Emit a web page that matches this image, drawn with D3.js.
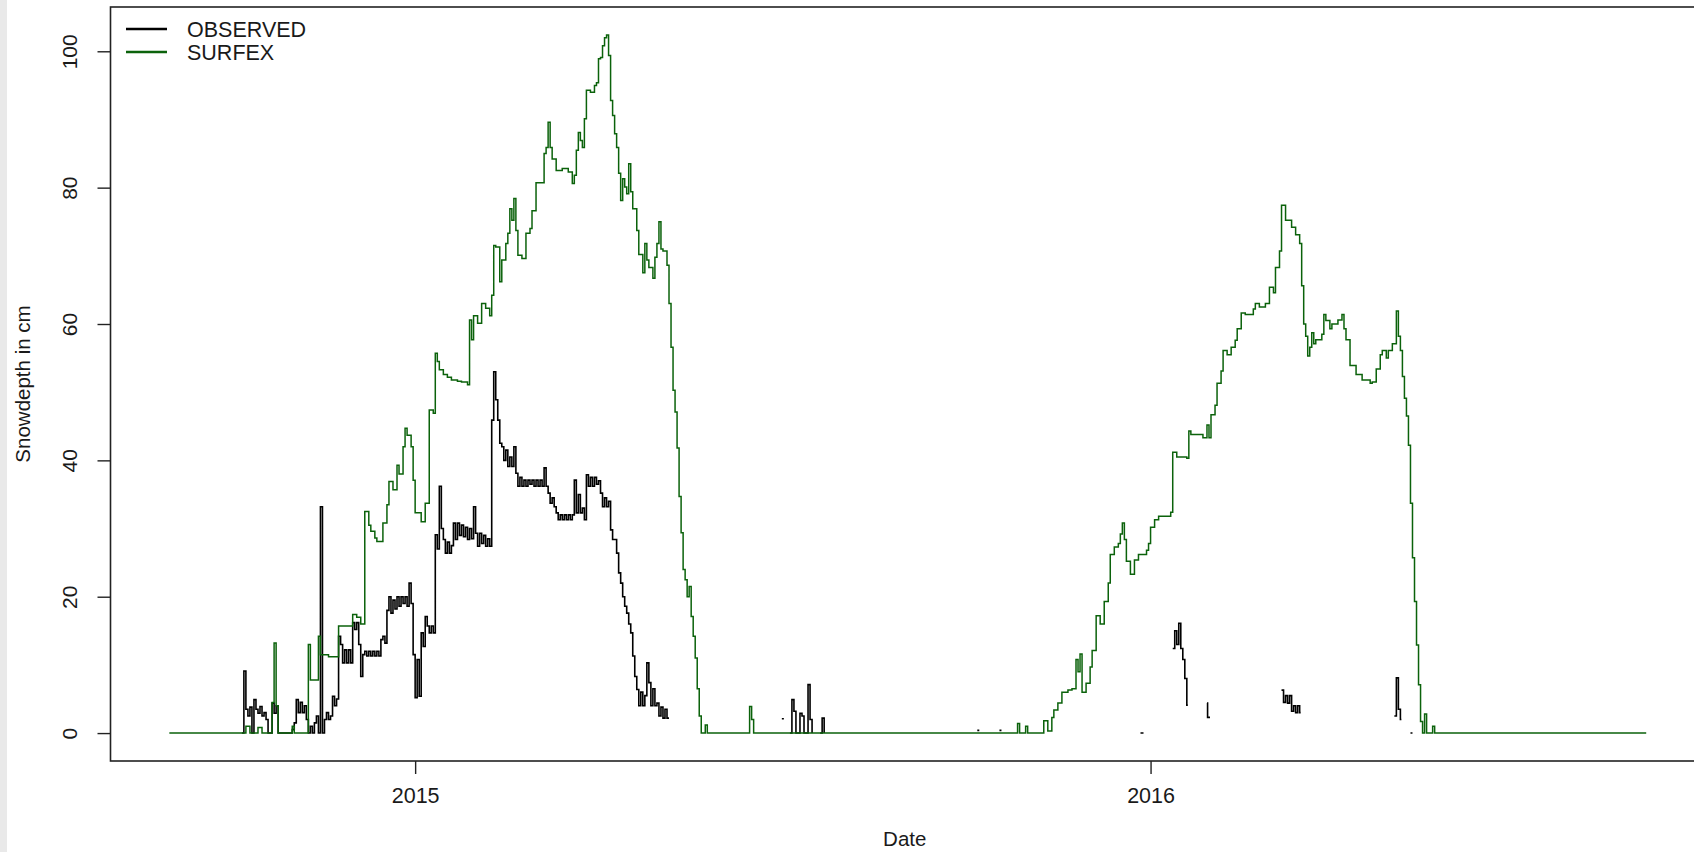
<!DOCTYPE html>
<html>
<head>
<meta charset="utf-8">
<script src="https://cdn.jsdelivr.net/npm/d3@7"></script>
<style>
  html, body { margin: 0; padding: 0; background: #ffffff; }
  svg { display: block; }
  text { font-family: "Liberation Sans", Arial, Helvetica, sans-serif; fill: #1a1a1a; }
</style>
</head>
<body>
<svg id="chart" width="1694" height="852"></svg>
<script>
// Snow depth record, days counted from 2014-09-01 (UTC)
const recordStart = Date.UTC(2014, 8, 1);

// SURFEX simulated snow depth (cm): day of change and new value
const surfexDay = [
  0, 38, 40, 44, 46, 51, 52, 53, 54, 61, 62,
  69, 70, 74, 75, 79, 84, 91, 93, 95, 97,
  99, 100, 102, 103, 106, 108, 109, 111, 113, 114,
  116, 117, 118, 120, 121, 122, 125, 127, 129, 131,
  132, 133, 134, 136, 138, 140, 143, 145, 148, 149,
  150, 151, 153, 155, 157, 159, 160, 161, 162, 164,
  165, 167, 168, 169, 170, 171, 172, 173, 175, 177,
  179, 180, 182, 186, 187, 188, 189, 190, 192, 195,
  198, 200, 201, 202, 203, 204, 205, 206, 207, 209,
  211, 212, 213, 214, 215, 216, 217, 218, 219, 220,
  221, 222, 223, 224, 225, 226, 227, 228, 229, 230,
  232, 233, 235, 236, 237, 238, 240, 241, 242, 243,
  244, 245, 247, 248, 249, 250, 251, 252, 253, 254,
  255, 256, 257, 258, 259, 260, 261, 262, 263, 264,
  266, 267, 288, 289, 290, 421, 422, 425, 426, 434,
  436, 438, 439, 441, 443, 446, 448, 450, 451, 452,
  453, 455, 457, 458, 460, 462, 464, 466, 467, 469,
  471, 472, 473, 474, 475, 477, 479, 481, 485, 486,
  487, 489, 491, 497, 498, 500, 505, 506, 507, 513,
  515, 516, 517, 519, 520, 522, 523, 525, 527, 529,
  530, 532, 534, 538, 539, 541, 544, 546, 548, 549,
  551, 552, 554, 557, 559, 561, 562, 563, 564, 565,
  566, 567, 568, 569, 572, 573, 574, 576, 577, 580,
  582, 583, 584, 586, 589, 592, 596, 597, 599, 601,
  602, 604, 605, 607, 609, 610, 611, 612, 613, 614,
  615, 616, 617, 618, 619, 620, 621, 622, 623, 624,
  627, 628, 733
];
const surfexCm = [
  0, 1.0, 0, 0.8, 0, 4.5, 13.2, 4.0, 0, 1.0, 0,
  13.0, 7.8, 14.2, 11.5, 11.2, 15.7, 17.4, 17.0, 16.0, 32.5,
  30.5, 29.6, 28.6, 28.1, 30.8, 33.5, 36.9, 35.7, 39.3, 38.0,
  42.0, 44.7, 43.7, 42.0, 37.1, 32.3, 31.0, 33.7, 47.4, 46.9,
  55.7, 54.5, 53.3, 52.6, 52.2, 51.8, 51.6, 51.5, 51.1, 60.6,
  57.7, 61.2, 60.1, 63.0, 62.3, 61.2, 64.2, 71.5, 71.3, 66.2,
  69.4, 71.8, 73.3, 76.9, 75.2, 78.4, 73.7, 70.1, 69.6, 73.3,
  74.0, 76.6, 80.7, 85.0, 85.9, 89.6, 85.9, 84.2, 82.5, 82.8,
  82.3, 80.6, 81.8, 85.5, 88.1, 86.9, 85.9, 90.1, 94.3, 94.0,
  95.0, 95.4, 98.9, 99.1, 100.8, 102.0, 102.4, 99.4, 92.8, 90.6,
  87.9, 85.9, 82.1, 78.1, 81.3, 80.1, 79.1, 83.5, 79.4, 76.9,
  73.7, 70.2, 67.5, 71.8, 69.4, 68.3, 66.7, 69.8, 71.8, 75.0,
  71.0, 70.7, 68.6, 63.0, 56.6, 50.3, 47.1, 41.8, 34.7, 29.4,
  24.0, 22.5, 20.0, 21.5, 17.1, 14.2, 11.0, 6.5, 2.5, 0,
  1.2, 0, 3.9, 2.0, 0, 1.4, 0, 1.0, 0, 1.8,
  0.3, 2.3, 3.4, 4.4, 6.0, 6.3, 6.5, 10.8, 9.0, 11.6,
  6.0, 7.3, 9.7, 12.1, 17.2, 16.0, 19.3, 22.0, 26.2, 27.3,
  27.8, 29.2, 30.8, 28.4, 25.2, 23.3, 25.4, 26.2, 26.8, 27.8,
  30.2, 31.3, 31.8, 32.4, 41.2, 40.5, 40.3, 44.3, 43.8, 43.3,
  45.2, 43.3, 46.7, 48.1, 51.3, 53.1, 56.1, 55.5, 56.6, 57.6,
  59.3, 61.6, 61.4, 62.2, 63.0, 62.5, 63.0, 65.4, 64.6, 68.3,
  70.7, 77.4, 75.2, 74.2, 73.1, 71.8, 65.6, 60.0, 58.2, 55.3,
  56.6, 58.7, 57.1, 57.7, 58.5, 61.4, 60.5, 59.3, 60.0, 60.6,
  61.4, 59.3, 57.7, 53.9, 52.6, 51.8, 51.3, 51.5, 53.4, 55.5,
  56.1, 55.0, 56.1, 57.1, 61.9, 58.2, 56.1, 52.3, 49.1, 46.5,
  42.2, 33.7, 25.7, 19.3, 12.9, 7.1, 1.7, 0, 2.8, 0,
  1.0, 0, 0
];

// Observed snow depth (cm); null marks missing observations
const observedDay = [
  0, 36, 37, 38, 39, 40, 41, 42, 43, 44, 45, 46, 47, 48, 49,
  51, 52, 53, 54, 61, 62, 63, 64, 65, 66, 67, 68, 69, 70, 71,
  72, 73, 74, 75, 76, 77, 78, 79, 80, 81, 82, 83, 84, 85, 86,
  87, 88, 89, 90, 91, 92, 93, 94, 95, 96, 97, 98, 99, 100, 101,
  102, 103, 104, 105, 106, 107, 108, 109, 110, 111, 112, 113, 114, 115, 116,
  117, 118, 119, 120, 121, 122, 123, 124, 125, 126, 127, 128, 129, 130, 131,
  132, 133, 134, 135, 136, 137, 138, 139, 140, 141, 142, 143, 144, 145, 146,
  147, 148, 149, 150, 151, 152, 153, 154, 155, 156, 157, 158, 159, 160, 161,
  162, 163, 164, 165, 166, 167, 168, 169, 170, 171, 172, 173, 174, 175, 176,
  177, 178, 179, 180, 181, 182, 183, 184, 185, 186, 187, 188, 189, 190, 191,
  192, 193, 194, 195, 196, 197, 198, 199, 200, 201, 202, 203, 204, 205, 206,
  207, 208, 209, 210, 211, 212, 213, 214, 215, 216, 217, 218, 219, 220, 221,
  222, 223, 224, 225, 226, 227, 228, 229, 230, 231, 232, 233, 234, 235, 236,
  237, 238, 239, 240, 241, 242, 243, 244, 245, 246, 247, 248, 249,
  304, 305, 306, 308, 309, 310, 311, 313, 314, 315, 317, 318, 319, 320,
  323, 324, 325, 326, 401, 402, 403, 412, 413, 414,
  482, 483.5, 484, 498, 499, 500, 501, 502, 503, 504, 505, 505.5, 506,
  515, 515.3, 516.5, 517,
  552, 553, 554, 555, 556, 557, 558, 559, 560, 561, 561.5, 562,
  608, 609, 610, 611, 611.5, 612, 616, 617, 617.3, 730
];
const observedCm = [
  null, 0, 9.1, 3.5, 2.5, 3.8, 0, 4.9, 3.5, 2.9, 3.9, 2.5, 3.0, 2.0, 0,
  4.4, 2.9, 4.0, 0, 0.5, 1.5, 4.9, 3.0, 4.5, 3.0, 4.0, 2.0, 0, 1.0, 0,
  1.5, 2.5, 0, 33.2, 0, 2.0, 3.0, 2.0, 2.5, 5.4, 4.0, 5.0, 14.2, 13.0, 10.3,
  12.2, 10.3, 12.2, 10.3, 16.2, 15.2, 16.2, 13.0, 8.3, 11.5, 12.0, 11.3, 12.0, 11.3, 12.0,
  11.3, 12.0, 11.3, 13.7, 14.2, 13.2, 18.0, 20.0, 17.6, 19.5, 18.2, 20.0, 18.6, 20.0, 19.0,
  20.0, 18.6, 22.0, 19.0, 11.5, 5.2, 10.8, 5.4, 14.7, 12.7, 17.1, 15.7, 14.7, 15.7, 14.7,
  29.1, 27.0, 36.2, 30.0, 28.4, 26.4, 28.0, 26.4, 27.5, 30.8, 28.4, 30.8, 29.0, 30.5, 28.8,
  30.2, 28.4, 30.0, 28.5, 33.2, 29.3, 27.4, 29.3, 27.8, 29.0, 27.4, 28.5, 27.4, 45.9, 53.0,
  48.9, 45.9, 42.5, 42.0, 40.0, 41.5, 39.1, 40.5, 39.1, 42.0, 38.1, 36.2, 37.5, 36.2, 37.1,
  36.2, 37.1, 36.5, 37.1, 36.2, 37.1, 36.2, 37.1, 36.2, 38.9, 36.2, 35.2, 33.7, 34.5, 33.2,
  32.3, 31.3, 32.0, 31.3, 32.0, 31.3, 32.0, 31.3, 32.0, 37.1, 32.3, 35.0, 32.3, 33.0, 31.3,
  37.9, 36.2, 37.5, 36.2, 37.5, 36.5, 37.0, 35.2, 33.2, 34.5, 33.2, 34.0, 29.8, 28.4, 28.4,
  26.4, 23.5, 22.0, 20.0, 18.6, 17.6, 16.0, 14.7, 11.3, 8.3, 6.4, 4.0, 6.0, 4.0, 5.5,
  10.3, 7.4, 4.0, 6.5, 4.0, 4.4, 2.5, 3.8, 2.2, 3.5, 2.2, 2.2, null,
  2.1, 2.1, null, 0, 4.9, 3.2, 0, 2.9, 2.5, 0, 7.1, 2.0, 0, null,
  0, 2.2, 0, null, 0.4, 0.4, null, 0.4, 0.4, null,
  0, 0, null, 12.4, 15.0, 13.0, 16.1, 12.4, 10.8, 8.0, 4.1, 4.1, null,
  4.4, 2.3, 2.3, null,
  6.3, 4.5, 5.5, 4.4, 5.5, 3.2, 4.0, 3.0, 4.0, 3.0, 3.0, null,
  2.5, 8.1, 3.5, 2.0, 2.0, null, 0, 0, null, null
];

const yTickValues = [0, 20, 40, 60, 80, 100];
const xTickYears = [2015, 2016];
const legendLabels = ["OBSERVED", "SURFEX"];
const seriesColors = ["#000000", "#0b620b"];
const yAxisTitle = "Snowdepth in cm";
const xAxisTitle = "Date";

// ---- layout ----
const W = 1694, H = 852;
const plot = { left: 110.5, right: 1699, top: 7, bottom: 761 };
const DAY_MS = 86400000;
const toDate = d => new Date(recordStart + d * DAY_MS);
const FONT = "'Liberation Sans', Arial, Helvetica, sans-serif";

const svg = d3.select("#chart");

// light strip along the left edge
svg.append("rect").attr("x", 0).attr("y", 0).attr("width", 7).attr("height", H).attr("fill", "#e9e9e9");

// scales: 4% padding around the data range on both axes
const dayExtent = d3.extent(observedDay);
const daySpan = dayExtent[1] - dayExtent[0];
const x = d3.scaleUtc()
  .domain([toDate(dayExtent[0] - 0.04 * daySpan), toDate(dayExtent[1] + 0.04 * daySpan)])
  .range([plot.left, plot.right]);

const yMax = d3.max(surfexCm.concat(observedCm.filter(v => v != null)));
const y = d3.scaleLinear()
  .domain([-0.04 * yMax, 1.04 * yMax])
  .range([plot.bottom, plot.top]);

// clip region for the series
svg.append("clipPath").attr("id", "plotClip")
  .append("rect")
  .attr("x", plot.left).attr("y", plot.top)
  .attr("width", plot.right - plot.left).attr("height", plot.bottom - plot.top);

const stepLine = d3.line()
  .defined(p => p.v != null)
  .x(p => x(p.t))
  .y(p => y(p.v))
  .curve(d3.curveStepAfter);

const observedPts = observedDay.map((d, i) => ({ t: toDate(d), v: observedCm[i] }));
const surfexPts = surfexDay.map((d, i) => ({ t: toDate(d), v: surfexCm[i] }));

const series = svg.append("g").attr("clip-path", "url(#plotClip)");
series.append("path")
  .attr("d", stepLine(observedPts))
  .attr("fill", "none")
  .attr("stroke", seriesColors[0])
  .attr("stroke-width", 1.6);
series.append("path")
  .attr("d", stepLine(surfexPts))
  .attr("fill", "none")
  .attr("stroke", seriesColors[1])
  .attr("stroke-width", 1.5);

// frame
svg.append("rect")
  .attr("x", plot.left).attr("y", plot.top)
  .attr("width", plot.right - plot.left).attr("height", plot.bottom - plot.top)
  .attr("fill", "none").attr("stroke", "#222").attr("stroke-width", 1.6);

// y axis with rotated labels
const yAxis = svg.append("g")
  .attr("transform", `translate(${plot.left},0)`)
  .call(d3.axisLeft(y).tickValues(yTickValues).tickSize(13).tickFormat(d3.format("d")));
yAxis.select(".domain").remove();
yAxis.selectAll(".tick line").attr("stroke", "#222").attr("stroke-width", 1.4);
yAxis.selectAll(".tick text")
  .attr("transform", "rotate(-90)")
  .attr("x", 0).attr("y", -34).attr("dy", 0)
  .attr("text-anchor", "middle")
  .style("font-size", "21px")
  .style("font-family", FONT)
  .attr("fill", "#1a1a1a");

// x axis: one tick per year
const xAxis = svg.append("g")
  .attr("transform", `translate(0,${plot.bottom})`)
  .call(d3.axisBottom(x)
    .tickValues(xTickYears.map(yr => new Date(Date.UTC(yr, 0, 1))))
    .tickSize(13)
    .tickFormat(d3.utcFormat("%Y")));
xAxis.select(".domain").remove();
xAxis.selectAll(".tick line").attr("stroke", "#222").attr("stroke-width", 1.4);
xAxis.selectAll(".tick text")
  .attr("y", 42).attr("dy", 0)
  .style("font-size", "21.5px")
  .style("font-family", FONT)
  .attr("fill", "#1a1a1a");

// axis titles
svg.append("text")
  .attr("x", (plot.left + plot.right) / 2).attr("y", 846)
  .attr("text-anchor", "middle")
  .style("font-size", "20.5px")
  .text(xAxisTitle);
svg.append("text")
  .attr("transform", `translate(30,${(plot.top + plot.bottom) / 2}) rotate(-90)`)
  .attr("text-anchor", "middle")
  .style("font-size", "20.5px")
  .text(yAxisTitle);

// legend
const legend = svg.append("g");
legendLabels.forEach((label, i) => {
  const ly = 29 + i * 23;
  legend.append("line")
    .attr("x1", 126).attr("x2", 167).attr("y1", ly).attr("y2", ly)
    .attr("stroke", seriesColors[i]).attr("stroke-width", 2.6);
  legend.append("text")
    .attr("x", 187).attr("y", ly).attr("dy", "0.36em")
    .style("font-size", "21.5px")
    .text(label);
});
</script>
</body>
</html>
